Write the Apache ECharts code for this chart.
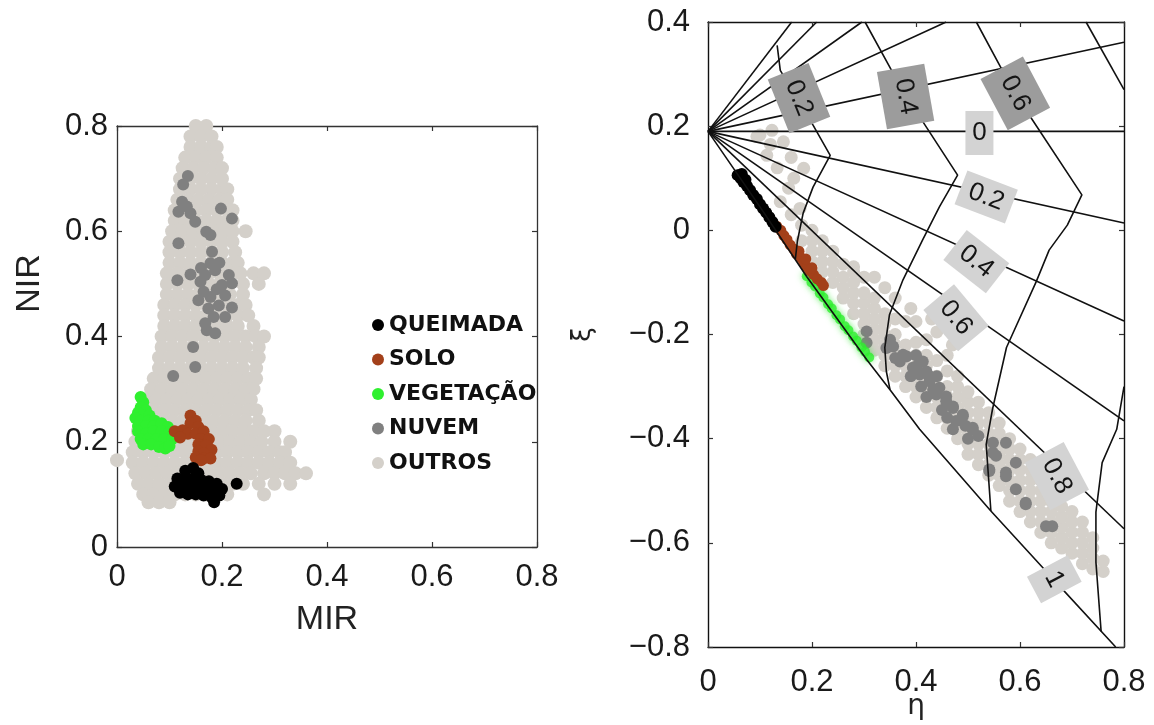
<!DOCTYPE html>
<html>
<head>
<meta charset="utf-8">
<script src="https://cdn.jsdelivr.net/npm/echarts@6.0.0/dist/echarts.min.js"></script>
<style>
  html, body { margin: 0; padding: 0; background: #ffffff; }
  #chart { width: 1154px; height: 725px; }
</style>
</head>
<body>
<div id="chart"></div>
<script>
// ---------- Left panel: MIR (x) vs NIR (y) ----------
// OUTROS cloud, one row per NIR level: [NIR, [MIR, MIR, ...]]
const outrosLeftRows = [
  [0.80, [0.15, 0.17]],
  [0.78, [0.14, 0.16, 0.18]],
  [0.76, [0.14, 0.16, 0.18, 0.19]],
  [0.74, [0.13, 0.15, 0.17, 0.19]],
  [0.72, [0.125, 0.145, 0.165, 0.185, 0.20]],
  [0.70, [0.12, 0.14, 0.16, 0.18, 0.20]],
  [0.68, [0.12, 0.14, 0.16, 0.18, 0.20, 0.21]],
  [0.66, [0.115, 0.135, 0.155, 0.175, 0.195, 0.21]],
  [0.64, [0.11, 0.13, 0.15, 0.17, 0.19, 0.21, 0.22]],
  [0.62, [0.11, 0.13, 0.15, 0.17, 0.19, 0.21, 0.22]],
  [0.60, [0.105, 0.125, 0.145, 0.165, 0.185, 0.205, 0.22, 0.245]],
  [0.58, [0.10, 0.12, 0.14, 0.16, 0.18, 0.20, 0.22]],
  [0.56, [0.10, 0.12, 0.14, 0.16, 0.18, 0.20, 0.225]],
  [0.54, [0.10, 0.12, 0.14, 0.16, 0.18, 0.20, 0.22, 0.23]],
  [0.52, [0.095, 0.115, 0.135, 0.155, 0.175, 0.195, 0.215, 0.235, 0.26, 0.28]],
  [0.50, [0.095, 0.115, 0.135, 0.155, 0.175, 0.195, 0.215, 0.24, 0.27]],
  [0.48, [0.095, 0.115, 0.135, 0.155, 0.175, 0.195, 0.215, 0.24]],
  [0.46, [0.09, 0.11, 0.13, 0.15, 0.17, 0.19, 0.21, 0.23, 0.245]],
  [0.44, [0.09, 0.11, 0.13, 0.15, 0.17, 0.19, 0.21, 0.23, 0.25]],
  [0.42, [0.09, 0.11, 0.13, 0.15, 0.17, 0.19, 0.21, 0.23, 0.26]],
  [0.40, [0.085, 0.105, 0.125, 0.145, 0.165, 0.185, 0.205, 0.225, 0.245, 0.265, 0.28]],
  [0.38, [0.085, 0.105, 0.125, 0.145, 0.165, 0.185, 0.205, 0.225, 0.245, 0.27]],
  [0.36, [0.08, 0.10, 0.12, 0.14, 0.16, 0.18, 0.20, 0.22, 0.24, 0.26, 0.27]],
  [0.34, [0.08, 0.10, 0.12, 0.14, 0.16, 0.18, 0.20, 0.22, 0.24, 0.265]],
  [0.32, [0.07, 0.09, 0.11, 0.13, 0.15, 0.17, 0.19, 0.21, 0.23, 0.25, 0.265]],
  [0.30, [0.065, 0.085, 0.105, 0.125, 0.145, 0.165, 0.185, 0.205, 0.225, 0.245, 0.26]],
  [0.28, [0.055, 0.075, 0.095, 0.115, 0.135, 0.155, 0.175, 0.195, 0.215, 0.235, 0.255]],
  [0.26, [0.05, 0.07, 0.09, 0.11, 0.13, 0.15, 0.17, 0.19, 0.21, 0.23, 0.25, 0.265]],
  [0.24, [0.045, 0.065, 0.085, 0.105, 0.125, 0.145, 0.165, 0.185, 0.205, 0.225, 0.245, 0.27]],
  [0.22, [0.04, 0.06, 0.08, 0.10, 0.12, 0.14, 0.16, 0.18, 0.20, 0.22, 0.24, 0.26, 0.28, 0.30]],
  [0.20, [0.035, 0.055, 0.075, 0.095, 0.115, 0.135, 0.155, 0.175, 0.195, 0.215, 0.235, 0.255, 0.275, 0.30, 0.33]],
  [0.18, [0.03, 0.05, 0.07, 0.09, 0.11, 0.13, 0.15, 0.17, 0.19, 0.21, 0.23, 0.25, 0.27, 0.29, 0.31, 0.32]],
  [0.165, [0.0]],
  [0.16, [0.03, 0.05, 0.07, 0.09, 0.11, 0.13, 0.15, 0.17, 0.19, 0.21, 0.23, 0.25, 0.27, 0.29, 0.31, 0.33]],
  [0.14, [0.035, 0.055, 0.075, 0.095, 0.115, 0.135, 0.155, 0.175, 0.195, 0.215, 0.235, 0.255, 0.28, 0.30, 0.32, 0.34, 0.36]],
  [0.12, [0.04, 0.06, 0.08, 0.10, 0.12, 0.14, 0.16, 0.18, 0.20, 0.22, 0.24, 0.27, 0.30, 0.33]],
  [0.10, [0.05, 0.07, 0.09, 0.11, 0.13, 0.15, 0.17, 0.19, 0.21, 0.28]],
  [0.085, [0.06, 0.08, 0.10]]
];

const nuvemLeft = [
  [0.126, 0.689], [0.135, 0.705], [0.124, 0.656], [0.133, 0.647], [0.117, 0.637],
  [0.14, 0.634], [0.149, 0.618], [0.198, 0.643], [0.219, 0.624], [0.17, 0.599],
  [0.178, 0.593], [0.117, 0.577], [0.181, 0.561], [0.178, 0.539], [0.187, 0.526],
  [0.168, 0.517], [0.159, 0.504], [0.213, 0.517], [0.219, 0.501], [0.2, 0.498],
  [0.165, 0.485], [0.155, 0.469], [0.178, 0.475], [0.206, 0.478], [0.194, 0.459],
  [0.174, 0.453], [0.184, 0.437], [0.168, 0.425], [0.171, 0.412], [0.187, 0.406],
  [0.219, 0.455], [0.14, 0.518], [0.115, 0.507], [0.206, 0.437], [0.195, 0.54],
  [0.19, 0.49], [0.16, 0.53], [0.145, 0.38], [0.149, 0.342], [0.107, 0.325]
];

const vegetacaoLeft = [
  [0.045, 0.285], [0.05, 0.275], [0.045, 0.265], [0.055, 0.26],
  [0.04, 0.255], [0.05, 0.25], [0.062, 0.25], [0.035, 0.245], [0.045, 0.24],
  [0.06, 0.24], [0.072, 0.24], [0.04, 0.23], [0.055, 0.23], [0.07, 0.23],
  [0.085, 0.235], [0.097, 0.228], [0.04, 0.22], [0.055, 0.215], [0.07, 0.22],
  [0.085, 0.22], [0.1, 0.218], [0.112, 0.214], [0.045, 0.205], [0.06, 0.205],
  [0.075, 0.205], [0.09, 0.205], [0.105, 0.205], [0.05, 0.195], [0.065, 0.195],
  [0.08, 0.19], [0.092, 0.187], [0.1, 0.192]
];

const soloLeft = [
  [0.14, 0.25], [0.15, 0.24], [0.14, 0.235], [0.155, 0.228], [0.11, 0.22],
  [0.125, 0.222], [0.135, 0.215], [0.12, 0.208], [0.15, 0.215], [0.165, 0.22],
  [0.16, 0.205], [0.175, 0.205], [0.155, 0.195], [0.17, 0.193], [0.18, 0.185],
  [0.155, 0.182], [0.165, 0.178], [0.15, 0.17], [0.165, 0.168], [0.178, 0.168],
  [0.16, 0.165]
];

const queimadaLeft = [
  [0.13, 0.145], [0.145, 0.15], [0.155, 0.14], [0.115, 0.13], [0.13, 0.13],
  [0.145, 0.13], [0.16, 0.128], [0.175, 0.125], [0.19, 0.12], [0.11, 0.115],
  [0.125, 0.115], [0.14, 0.115], [0.155, 0.112], [0.17, 0.112], [0.185, 0.108],
  [0.2, 0.11], [0.12, 0.103], [0.135, 0.1], [0.15, 0.1], [0.165, 0.098],
  [0.18, 0.095], [0.195, 0.098], [0.185, 0.085], [0.228, 0.12]
];

// ---------- Right panel: eta (x) vs xi (y) ----------
const outrosRightScattered = [
  [0.094, 0.18], [0.1, 0.183], [0.123, 0.192], [0.145, 0.17], [0.113, 0.144],
  [0.133, 0.12], [0.155, 0.081], [0.177, 0.042], [0.139, 0.055], [0.184, 0.119],
  [0.16, 0.14], [0.12, 0.165], [0.16, 0.03], [0.165, 0.1], [0.36, -0.13],
  [0.39, -0.15], [0.43, -0.17], [0.47, -0.22]
];
// OUTROS band, one column per eta: [eta, [xi, xi, ...]]
const outrosRightRows = [
  [0.18, [-0.02, 0.01]],
  [0.20, [-0.06, -0.04, -0.02, 0.0]],
  [0.22, [-0.08, -0.06, -0.04, -0.02]],
  [0.24, [-0.10, -0.08, -0.06, -0.04]],
  [0.26, [-0.13, -0.11, -0.09, -0.065]],
  [0.28, [-0.16, -0.14, -0.12, -0.10, -0.08, -0.07]],
  [0.30, [-0.20, -0.18, -0.16, -0.14, -0.12, -0.09]],
  [0.32, [-0.23, -0.21, -0.19, -0.17, -0.15, -0.13, -0.09]],
  [0.34, [-0.26, -0.24, -0.22, -0.20, -0.18, -0.16, -0.11]],
  [0.36, [-0.28, -0.26, -0.24, -0.22, -0.20, -0.17]],
  [0.38, [-0.30, -0.28, -0.26, -0.24, -0.22, -0.175]],
  [0.40, [-0.32, -0.30, -0.28, -0.26, -0.24, -0.215, -0.175]],
  [0.42, [-0.34, -0.32, -0.30, -0.28, -0.26, -0.24, -0.21]],
  [0.44, [-0.36, -0.34, -0.32, -0.30, -0.28, -0.25, -0.195]],
  [0.46, [-0.38, -0.36, -0.34, -0.32, -0.30, -0.27, -0.24]],
  [0.48, [-0.40, -0.38, -0.36, -0.34, -0.32, -0.30, -0.28]],
  [0.50, [-0.43, -0.41, -0.39, -0.37, -0.35, -0.33, -0.31]],
  [0.52, [-0.45, -0.43, -0.41, -0.39, -0.37, -0.35, -0.33]],
  [0.54, [-0.47, -0.45, -0.43, -0.41, -0.39, -0.37, -0.35]],
  [0.56, [-0.49, -0.47, -0.45, -0.43, -0.41, -0.39, -0.37]],
  [0.58, [-0.52, -0.50, -0.48, -0.46, -0.44, -0.42, -0.40]],
  [0.60, [-0.54, -0.52, -0.50, -0.48, -0.46, -0.44, -0.42]],
  [0.62, [-0.56, -0.54, -0.52, -0.50, -0.48, -0.46, -0.44]],
  [0.64, [-0.58, -0.56, -0.54, -0.52, -0.50, -0.48, -0.46]],
  [0.66, [-0.60, -0.58, -0.56, -0.54, -0.52, -0.50, -0.48]],
  [0.68, [-0.61, -0.59, -0.57, -0.55, -0.53, -0.51]],
  [0.70, [-0.62, -0.60, -0.58, -0.56, -0.54]],
  [0.72, [-0.64, -0.62, -0.60, -0.58, -0.56]],
  [0.74, [-0.65, -0.63, -0.61, -0.59]],
  [0.76, [-0.655, -0.635]]
];

const nuvemRight = [
  [0.305, -0.194], [0.305, -0.216], [0.343, -0.226], [0.356, -0.223], [0.375, -0.239],
  [0.369, -0.252], [0.394, -0.264], [0.407, -0.277], [0.42, -0.271], [0.426, -0.29],
  [0.445, -0.302], [0.439, -0.315], [0.458, -0.328], [0.471, -0.341], [0.477, -0.366],
  [0.49, -0.354], [0.509, -0.379], [0.413, -0.252], [0.382, -0.242], [0.401, -0.261],
  [0.426, -0.28], [0.433, -0.306], [0.458, -0.319], [0.471, -0.338], [0.49, -0.357],
  [0.471, -0.382], [0.509, -0.382], [0.548, -0.408], [0.548, -0.427], [0.573, -0.408],
  [0.541, -0.459], [0.592, -0.446], [0.573, -0.472], [0.592, -0.497], [0.611, -0.523],
  [0.65, -0.568], [0.662, -0.568], [0.554, -0.433], [0.541, -0.462], [0.573, -0.465],
  [0.611, -0.526], [0.36, -0.245], [0.39, -0.28], [0.41, -0.3], [0.42, -0.32],
  [0.45, -0.345], [0.5, -0.4], [0.52, -0.395], [0.495, -0.375], [0.46, -0.36],
  [0.44, -0.28], [0.4, -0.24], [0.35, -0.21]
];

const vegetacaoRight = [
  [0.19, -0.088], [0.199, -0.1], [0.206, -0.108], [0.215, -0.121], [0.222, -0.129],
  [0.231, -0.142], [0.238, -0.15], [0.247, -0.163], [0.254, -0.171], [0.263, -0.184],
  [0.27, -0.192], [0.279, -0.204], [0.286, -0.212], [0.295, -0.225], [0.302, -0.233],
  [0.31, -0.244]
];

const soloRight = [
  [0.132, 0.008], [0.14, 0.0], [0.146, -0.01], [0.152, -0.018], [0.158, -0.028],
  [0.165, -0.036], [0.17, -0.045], [0.178, -0.052], [0.184, -0.062], [0.19, -0.07],
  [0.196, -0.078], [0.203, -0.085], [0.21, -0.093], [0.218, -0.1], [0.222, -0.106],
  [0.175, -0.04], [0.188, -0.055], [0.2, -0.072]
];

const queimadaRight = [
  [0.057, 0.106], [0.063, 0.1], [0.068, 0.093], [0.075, 0.085], [0.081, 0.077],
  [0.087, 0.068], [0.094, 0.06], [0.1, 0.05], [0.106, 0.042], [0.112, 0.034],
  [0.118, 0.025], [0.124, 0.016], [0.13, 0.007], [0.065, 0.108], [0.072, 0.097]
];

// Reference grid of the eta-xi plane: fan of lines from the convergence point
const fanOrigin = [0, 0.19];
const fanEnds = [
  [0.161, 0.4], [0.209, 0.4], [0.296, 0.4], [0.458, 0.4], [0.8, 0.361],
  [0.8, 0.19], [0.8, 0.014], [0.8, -0.174], [0.8, -0.366], [0.8, -0.573]
];
const fanEdge = [
  [0, 0.19], [0.1, 0.045], [0.19, -0.089], [0.305, -0.248], [0.35, -0.306],
  [0.407, -0.382], [0.544, -0.539], [0.666, -0.672], [0.784, -0.8]
];
const curve02 = [
  [0.133, 0.355], [0.139, 0.307], [0.202, 0.202], [0.235, 0.144], [0.202, 0.083],
  [0.183, 0.033], [0.172, -0.02], [0.168, -0.055]
];
const curve04 = [
  [0.302, 0.4], [0.353, 0.307], [0.409, 0.215], [0.48, 0.106], [0.445, 0.045],
  [0.413, -0.018], [0.375, -0.095], [0.349, -0.162], [0.34, -0.225], [0.343, -0.271],
  [0.35, -0.306]
];
const curve06 = [
  [0.516, 0.4], [0.564, 0.311], [0.618, 0.221], [0.719, 0.068], [0.691, 0.01],
  [0.656, -0.038], [0.631, -0.099], [0.574, -0.225], [0.547, -0.344], [0.535, -0.411],
  [0.544, -0.539]
];
const curve08Top = [[0.727, 0.4], [0.8, 0.27]];
const curve08 = [
  [0.8, -0.3], [0.786, -0.382], [0.758, -0.446], [0.746, -0.541], [0.746, -0.637],
  [0.756, -0.77]
];

// Label tags on the grid
const rayTags = ['0', '0.2', '0.4', '0.6', '0.8', '1'];
const curveTags = ['0.2', '0.4', '0.6'];
const rayTagAnchors = [
  [0.522, 0.187], [0.535, 0.064], [0.516, -0.06], [0.477, -0.168], [0.671, -0.472], [0.666, -0.67]
];
const curveTagAnchors = [[0.175, 0.254], [0.38, 0.257], [0.591, 0.263]];

// ---------- assembly ----------
const flattenRowsY = rows => rows.flatMap(([y, xs]) => xs.map(x => [x, y]));
const flattenRowsX = rows => rows.flatMap(([x, ys]) => ys.map(y => [x, y]));

const COLORS = {
  QUEIMADA: '#000000',
  SOLO: '#a3401a',
  'VEGETAÇÃO': '#2ff02f',
  NUVEM: '#808080',
  OUTROS: '#d4d0ca'
};

// rotation in degrees (counter-clockwise positive), box width/height in px
const rayTagStyle = [
  { w: 28, h: 44, rot: 0 },
  { w: 54, h: 36, rot: -21 },
  { w: 54, h: 38, rot: -38 },
  { w: 54, h: 40, rot: -50 },
  { w: 54, h: 44, rot: -62 },
  { w: 30, h: 46, rot: -62 }
];
const curveTagStyle = [
  { w: 58, h: 44, rot: -68 },
  { w: 58, h: 48, rot: -80 },
  { w: 58, h: 48, rot: -62 }
];

function tagSeries(texts, anchors, styles, fill) {
  return {
    type: 'custom',
    xAxisIndex: 2, yAxisIndex: 2,
    z: 6, silent: true,
    data: anchors,
    renderItem: function (params, api) {
      const p = api.coord([api.value(0), api.value(1)]);
      const s = styles[params.dataIndex];
      return {
        type: 'group',
        x: p[0], y: p[1],
        rotation: s.rot * Math.PI / 180,
        children: [
          { type: 'rect', shape: { x: -s.w / 2, y: -s.h / 2, width: s.w, height: s.h },
            style: { fill: fill } },
          { type: 'text', style: { text: texts[params.dataIndex], x: 0, y: 0,
            align: 'center', verticalAlign: 'middle',
            font: '26px "Liberation Sans", Arial, sans-serif', fill: '#151515' } }
        ]
      };
    }
  };
}

function gridLine(points) {
  return {
    type: 'line', xAxisIndex: 2, yAxisIndex: 2, data: points,
    showSymbol: false, symbol: 'none', silent: true, z: 4, clip: true,
    lineStyle: { color: '#111111', width: 1.6 }
  };
}

function scatter(name, data, axis, size, extra) {
  return Object.assign({
    type: 'scatter', name: name, data: data,
    xAxisIndex: axis, yAxisIndex: axis,
    symbolSize: size, clip: false, silent: true,
    itemStyle: { color: COLORS[name], opacity: 1 }
  }, extra || {});
}

const fmt = v => {
  const r = Math.round(v * 10) / 10;
  if (r === 0) return '0';
  return (r < 0 ? '\u2212' : '') + String(Math.abs(r));
};

const tickFont = { fontFamily: '"Liberation Sans", Arial, sans-serif', fontSize: 31, color: '#1a1a1a' };

function valueAxis(opts) {
  return Object.assign({
    type: 'value', splitLine: { show: false }, nameMoveOverlap: false,
    axisLine: { show: true, onZero: false, lineStyle: { color: '#333333', width: 1.3 } },
    axisTick: { show: true, inside: true, length: 5, lineStyle: { color: '#333333', width: 1.2 } },
    axisLabel: Object.assign({ show: true, formatter: fmt }, tickFont)
  }, opts);
}
function boxAxis(opts) {
  return valueAxis(Object.assign({ axisLabel: { show: false } }, opts));
}

const option = {
  animation: false,
  backgroundColor: '#ffffff',
  textStyle: { fontFamily: '"Liberation Sans", Arial, sans-serif' },
  grid: [
    { left: 117, top: 126, width: 420, height: 421, outerBoundsMode: 'none', containLabel: false },
    { left: 708, top: 22, width: 416, height: 625, outerBoundsMode: 'none', containLabel: false }
  ],
  xAxis: [
    valueAxis({ gridIndex: 0, position: 'bottom', min: 0, max: 0.8, interval: 0.2,
      axisLabel: Object.assign({ formatter: fmt, margin: 15 }, tickFont),
      name: 'MIR', nameLocation: 'middle', nameGap: 56,
      nameTextStyle: { fontSize: 34, color: '#222', fontFamily: '"Liberation Sans", Arial, sans-serif' } }),
    boxAxis({ gridIndex: 0, position: 'top', min: 0, max: 0.8, interval: 0.2 }),
    valueAxis({ gridIndex: 1, position: 'bottom', min: 0, max: 0.8, interval: 0.2,
      axisLine: { show: true, onZero: false, lineStyle: { color: '#111', width: 1.4 } },
      axisLabel: Object.assign({ formatter: fmt, margin: 20 }, tickFont),
      name: 'η', nameLocation: 'middle', nameGap: 46,
      nameTextStyle: { fontSize: 28, color: '#222', fontFamily: '"DejaVu Sans", sans-serif' } }),
    boxAxis({ gridIndex: 1, position: 'top', min: 0, max: 0.8, interval: 0.2,
      axisLine: { show: true, onZero: false, lineStyle: { color: '#111', width: 1.4 } } })
  ],
  yAxis: [
    valueAxis({ gridIndex: 0, position: 'left', min: 0, max: 0.8, interval: 0.2,
      axisLabel: Object.assign({ formatter: fmt, margin: 9 }, tickFont),
      name: 'NIR', nameLocation: 'middle', nameGap: 70, nameRotate: 90,
      nameTextStyle: { fontSize: 34, color: '#222', padding: [0, 0, 0, 106],
        fontFamily: '"Liberation Sans", Arial, sans-serif' } }),
    boxAxis({ gridIndex: 0, position: 'right', min: 0, max: 0.8, interval: 0.2 }),
    valueAxis({ gridIndex: 1, position: 'left', min: -0.8, max: 0.4, interval: 0.2,
      axisLine: { show: true, onZero: false, lineStyle: { color: '#111', width: 1.4 } },
      axisLabel: Object.assign({ formatter: fmt, margin: 18 }, tickFont),
      name: 'ξ', nameLocation: 'middle', nameGap: 112, nameRotate: 90,
      nameTextStyle: { fontSize: 26, color: '#222', fontFamily: '"DejaVu Sans", sans-serif' } }),
    boxAxis({ gridIndex: 1, position: 'right', min: -0.8, max: 0.4, interval: 0.2,
      axisLine: { show: true, onZero: false, lineStyle: { color: '#111', width: 1.4 } } })
  ],
  legend: {
    data: ['QUEIMADA', 'SOLO', 'VEGETAÇÃO', 'NUVEM', 'OUTROS'],
    orient: 'vertical', left: 367, top: 309,
    icon: 'circle', itemWidth: 12, itemHeight: 12, itemGap: 12.5,
    selectedMode: false,
    textStyle: { fontFamily: '"DejaVu Sans", sans-serif', fontWeight: 'bold', fontSize: 22, color: '#111' }
  },
  series: [
    // left panel
    scatter('OUTROS', flattenRowsY(outrosLeftRows), 0, 14),
    scatter('NUVEM', nuvemLeft, 0, 12),
    scatter('VEGETAÇÃO', vegetacaoLeft, 0, 12),
    scatter('SOLO', soloLeft, 0, 12),
    scatter('QUEIMADA', queimadaLeft, 0, 12),
    // right panel
    scatter('OUTROS', outrosRightScattered.concat(flattenRowsX(outrosRightRows)), 2, 13),
    scatter('NUVEM', nuvemRight, 2, 12),
    scatter('VEGETAÇÃO', vegetacaoRight, 2, 10,
      { itemStyle: { color: COLORS['VEGETAÇÃO'], shadowBlur: 6, shadowColor: 'rgba(60,230,60,0.7)' } }),
    scatter('SOLO', soloRight, 2, 11),
    scatter('QUEIMADA', queimadaRight, 2, 12),
    // grid lines
    ...fanEnds.map(e => gridLine([fanOrigin, e])),
    gridLine(fanEdge),
    gridLine(curve02), gridLine(curve04), gridLine(curve06),
    gridLine(curve08Top), gridLine(curve08),
    // tags
    tagSeries(rayTags, rayTagAnchors, rayTagStyle, '#d3d3d3'),
    tagSeries(curveTags, curveTagAnchors, curveTagStyle, '#9c9c9c')
  ]
};

const chart = echarts.init(document.getElementById('chart'), null, { renderer: 'canvas' });
chart.setOption(option);
</script>
</body>
</html>
